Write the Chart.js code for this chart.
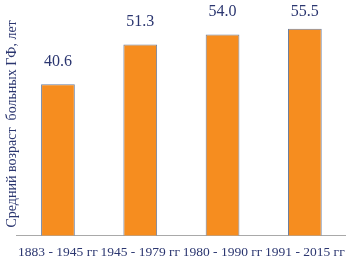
<!DOCTYPE html>
<html lang="ru">
<head>
    <meta charset="UTF-8">
    <title>Средний возраст больных ГФ</title>
    <script src="https://cdn.jsdelivr.net/npm/chart.js@4"></script>
    <style>
        html, body { margin: 0; padding: 0; background: #fff; overflow: hidden; }
        .chart-container { width: 346px; height: 265px; }
    </style>
</head>
<body>
<div class="chart-container">
    <canvas id="ageChart" width="346" height="265"></canvas>
</div>
<script>
    const periods = ['1883 - 1945 гг', '1945 - 1979 гг', '1980 - 1990 гг', '1991 - 2015 гг'];
    const meanAge = [40.6, 51.3, 54.0, 55.5];
    const yTitle = 'Средний возраст  больных ГФ, лет';

    const textColor = '#2b3670';
    const serif = "'Liberation Serif', 'DejaVu Serif', serif";

    // values above bars (kept below the top edge)
    const valueLabels = {
        id: 'valueLabels',
        afterDatasetsDraw(chart) {
            const ctx = chart.ctx;
            const meta = chart.getDatasetMeta(0);
            ctx.save();
            ctx.font = '16px ' + serif;
            ctx.fillStyle = textColor;
            ctx.textAlign = 'center';
            ctx.textBaseline = 'middle';
            meta.data.forEach((bar, i) => {
                ctx.fillText(meanAge[i].toFixed(1), bar.x, Math.max(bar.y - 23, 12));
            });
            ctx.restore();
        }
    };

    new Chart(document.getElementById('ageChart'), {
        type: 'bar',
        data: {
            labels: periods,
            datasets: [{
                data: meanAge,
                backgroundColor: '#f68d1f',
                borderColor: '#6b7fa0',
                borderWidth: 1,
                barPercentage: 0.41,
                categoryPercentage: 1
            }]
        },
        options: {
            responsive: false,
            animation: false,
            maintainAspectRatio: false,
            layout: { padding: { left: 0, right: 0, top: 12, bottom: -5 } },
            plugins: {
                legend: { display: false },
                tooltip: { enabled: false }
            },
            scales: {
                x: {
                    grid: { display: false, drawTicks: false },
                    border: { display: true, color: '#a9a9a9', width: 1 },
                    ticks: {
                        color: textColor,
                        font: { family: serif, size: 13.5 },
                        padding: 9,
                        maxRotation: 0,
                        autoSkip: false
                    },
                    afterFit(scale) {
                        // let the outer labels run to the canvas edge
                        scale.paddingLeft = 0;
                        scale.paddingRight = 0;
                    }
                },
                y: {
                    min: 0,
                    max: 60,
                    grid: { display: false, drawTicks: false },
                    border: { display: false },
                    ticks: { display: false },
                    title: {
                        display: true,
                        text: yTitle,
                        color: textColor,
                        font: { family: serif, size: 14 },
                        padding: { top: 4, bottom: -4 }
                    }
                }
            }
        },
        plugins: [valueLabels]
    });
</script>
</body>
</html>
